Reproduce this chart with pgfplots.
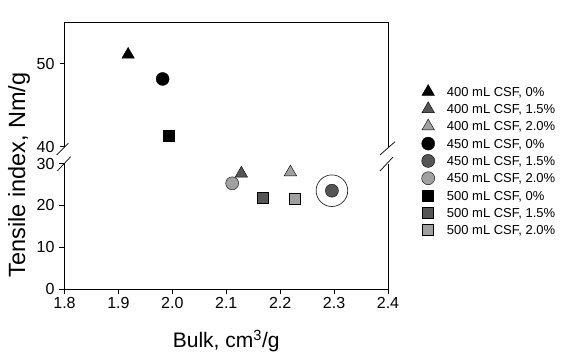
\documentclass[border=0pt]{standalone}
\usepackage{pgfplots}
\pgfplotsset{compat=1.18}
\usepackage{fontspec}
\setmainfont{Liberation Sans}
\definecolor{dg}{HTML}{555555}
\definecolor{lg}{HTML}{A0A0A0}
\begin{document}
\begin{tikzpicture}
\path (0pt,0pt) rectangle (567pt,359pt);
\pgfplotsset{
 common/.style={
  scale only axis, width=323.5pt, xmin=1.8, xmax=2.4,
  axis line style={line width=0.9pt},
  /pgf/number format/assume math mode=true,
  tick label style={font=\fontsize{16}{16}\selectfont},
  clip=false,
 },
 blk/.style={only marks, mark options={draw=black, fill=black, line width=0.4pt}},
 dgs/.style={only marks, mark options={draw=black, fill=dg, line width=0.4pt}},
 lgs/.style={only marks, mark options={draw=black, fill=lg, line width=0.4pt}},
 tri/.style={mark=triangle*, mark size=7.2pt},
 cir/.style={mark=*, mark size=6.5pt},
 sqr/.style={mark=square*, mark size=5.5pt},
}
% upper segment
\begin{axis}[common, at={(64.5pt,212.3pt)}, anchor=south west, height=124.7pt,
  ymin=40, ymax=55, axis x line*=top, axis y line*=box,
  xtick=\empty, ytick={40,50}, ytick pos=left,
  tick align=outside, major tick length=5pt, tick style={line width=0.8pt, black},
  yticklabel style={xshift=-1.5pt}]
\addplot[blk, tri] coordinates {(1.918,51.08)};
\addplot[blk, cir] coordinates {(1.982,48.15)};
\addplot[blk, sqr] coordinates {(1.994,41.33)};
\end{axis}
% lower segment
\begin{axis}[common, at={(64.5pt,70pt)}, anchor=south west, height=125.5pt,
  ymin=0, ymax=30, axis x line*=bottom, axis y line*=box,
  xtick={1.8,1.9,2.0,2.1,2.2,2.3,2.4}, ytick={0,10,20,30}, ytick pos=left, xtick pos=bottom,
  tick align=outside, major tick length=5pt, tick style={line width=0.8pt, black},
  yticklabel style={xshift=-1.5pt},
  xticklabel style={/pgf/number format/.cd, fixed, fixed zerofill, precision=1},
  xlabel={Bulk, cm\textsuperscript{3}/g},
  every axis x label/.style={at={(axis description cs:0.5,-0.470)}, anchor=base, font=\fontsize{21}{21}\selectfont},
  ylabel={Tensile index, Nm/g},
  every axis y label/.style={at={(axis description cs:-0.1221,0.908)}, anchor=base, rotate=90, font=\fontsize{23.5}{23.5}\selectfont},
  legend cell align=left,
  legend style={draw=none, fill=none, at={(1.0958,1.6398)}, anchor=north west,
    inner sep=0pt, outer sep=0pt, row sep=0.3pt,
    font=\fontsize{13}{14}\selectfont,
    nodes={inner sep=0pt, text height=13pt, text depth=4pt},
    /tikz/every odd column/.append style={column sep=9.5pt}},
  legend image code/.code={\path (0pt,0pt) (18pt,0pt); \draw[#1] plot coordinates {(9pt,0pt)};},
  ]
\addlegendimage{blk, tri}
\addlegendentry{400 mL CSF, 0\%}
\addplot[dgs, tri] coordinates {(2.128,27.6)};
\addlegendentry{400 mL CSF, 1.5\%}
\addplot[lgs, tri] coordinates {(2.219,27.9)};
\addlegendentry{400 mL CSF, 2.0\%}
\addlegendimage{blk, cir}
\addlegendentry{450 mL CSF, 0\%}
\addplot[dgs, cir] coordinates {(2.296,23.5)};
\addlegendentry{450 mL CSF, 1.5\%}
\addplot[lgs, cir] coordinates {(2.111,25.26)};
\addlegendentry{450 mL CSF, 2.0\%}
\addlegendimage{blk, sqr}
\addlegendentry{500 mL CSF, 0\%}
\addplot[dgs, sqr] coordinates {(2.168,21.9)};
\addlegendentry{500 mL CSF, 1.5\%}
\addplot[lgs, sqr] coordinates {(2.227,21.5)};
\addlegendentry{500 mL CSF, 2.0\%}
\addplot[only marks, mark=o, mark size=15.8pt, mark options={draw=black!85, line width=0.7pt}, forget plot] coordinates {(2.296,23.5)};
\end{axis}
% axis break marks
\draw[line width=0.7pt] (56.7pt,204pt) -- (68.3pt,215.7pt);
\draw[line width=0.7pt] (57.3pt,188pt) -- (70.7pt,202.3pt);
\draw[line width=0.7pt] (380pt,204pt) -- (395pt,217.3pt);
\draw[line width=0.7pt] (380pt,188pt) -- (393pt,202pt);
\end{tikzpicture}
\end{document}
